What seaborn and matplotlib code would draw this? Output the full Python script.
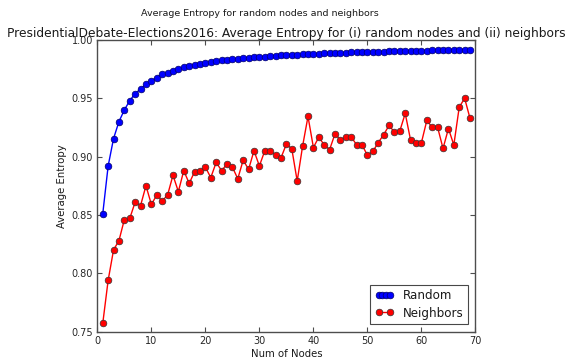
import matplotlib
matplotlib.use("Agg")
import matplotlib.pyplot as plt
from matplotlib.legend_handler import HandlerLine2D
import seaborn as sns
import pandas as pd

# Node counts on the x axis
num_nodes = list(range(1, 70))

# Average entropy when picking random nodes
random_entropy = [
    0.851, 0.892, 0.9155, 0.930, 0.940, 0.948, 0.954, 0.958, 0.962, 0.965,
    0.9678, 0.9704, 0.972, 0.9738, 0.9753, 0.9767, 0.9776, 0.9787, 0.9796, 0.9804,
    0.9811, 0.9818, 0.9824, 0.9829, 0.9834, 0.9839, 0.9843, 0.9847, 0.9851, 0.9855,
    0.9858, 0.9861, 0.9864, 0.9867, 0.9870, 0.9872, 0.9875, 0.9877, 0.9879, 0.9881,
    0.9883, 0.9885, 0.9887, 0.9889, 0.9890, 0.9892, 0.9893, 0.9895, 0.9896, 0.9897,
    0.9899, 0.9900, 0.9901, 0.9902, 0.9903, 0.9904, 0.9905, 0.9906, 0.9907, 0.9908,
    0.9909, 0.9910, 0.9911, 0.9912, 0.9913, 0.9914, 0.9915, 0.9916, 0.9917,
]

# Average entropy when picking neighbors
neighbor_entropy = [
    0.757, 0.794, 0.820, 0.828, 0.846, 0.847, 0.861, 0.858, 0.875, 0.859,
    0.867, 0.862, 0.867, 0.884, 0.870, 0.888, 0.877, 0.887, 0.8875, 0.891,
    0.882, 0.895, 0.888, 0.8935, 0.891, 0.881, 0.897, 0.889, 0.905, 0.892,
    0.905, 0.905, 0.9015, 0.899, 0.9107, 0.9067, 0.879, 0.909, 0.9344, 0.9078,
    0.9167, 0.910, 0.906, 0.9195, 0.9144, 0.917, 0.917, 0.910, 0.910, 0.9012,
    0.9044, 0.912, 0.9187, 0.9267, 0.921, 0.922, 0.937, 0.914, 0.9116, 0.912,
    0.931, 0.925, 0.925, 0.907, 0.924, 0.910, 0.9424, 0.950, 0.9327,
]

x_ticks = [0, 10, 20, 30, 40, 50, 60, 70]
y_ticks = [0.75, 0.80, 0.85, 0.90, 0.95, 1.00]

sns.set_style("white", {
    "xtick.direction": "in",
    "ytick.direction": "in",
    "xtick.top": True,
    "ytick.right": True,
    "xtick.bottom": True,
    "ytick.left": True,
    "axes.edgecolor": "0.3",
    "text.color": "0.1",
    "axes.labelcolor": "0.1",
    "xtick.color": "0.3",
    "ytick.color": "0.3",
})
plt.rcParams["font.family"] = ["DejaVu Sans"]

df = pd.DataFrame({"nodes": num_nodes,
                   "random": random_entropy,
                   "neighbors": neighbor_entropy})

fig = plt.figure(figsize=(5.66, 3.6), dpi=100)
ax = fig.add_axes([0.172, 0.079, 0.668, 0.810])

sns.lineplot(data=df, x="nodes", y="random", ax=ax, color="blue",
             marker="o", markersize=4.8, markeredgecolor="#000066",
             markeredgewidth=0.5, linewidth=1.0, label="Random")
sns.lineplot(data=df, x="nodes", y="neighbors", ax=ax, color="red",
             marker="o", markersize=4.8, markeredgecolor="#333333",
             markeredgewidth=0.5, linewidth=1.0, label="Neighbors")

ax.set_xlim(0, 70)
ax.set_ylim(0.75, 1.00)
ax.set_xticks(x_ticks)
ax.set_yticks(y_ticks)
ax.set_xticklabels([str(t) for t in x_ticks])
ax.set_yticklabels([f"{t:.2f}" for t in y_ticks])
ax.tick_params(axis="both", which="major", length=3.5, width=0.8,
               labelsize=7, labelcolor="0.15", pad=3)
for s in ax.spines.values():
    s.set_linewidth(1.0)

ax.set_xlabel("Num of Nodes", fontsize=7.3, labelpad=2)
ax.set_ylabel("Average Entropy", fontsize=7.3, labelpad=3)
ax.set_title("PresidentialDebate-Elections2016: Average Entropy for (i) random nodes and (ii) neighbors",
             fontsize=8.8, pad=2)
fig.suptitle("Average Entropy for random nodes and neighbors",
             fontsize=6.8, x=0.46, y=0.975)

lines = ax.get_lines()
leg = ax.legend(handles=[lines[0], lines[1]], labels=["Random", "Neighbors"],
                loc="lower right", fontsize=8.6, frameon=True, fancybox=False,
                handlelength=1.5, borderaxespad=0.6, labelspacing=0.35,
                handletextpad=0.8, borderpad=0.4,
                handler_map={lines[0]: HandlerLine2D(numpoints=4),
                             lines[1]: HandlerLine2D(numpoints=2)})
leg.get_frame().set_edgecolor("0.1")
leg.get_frame().set_linewidth(0.8)

fig.savefig("out.png", dpi=100)
